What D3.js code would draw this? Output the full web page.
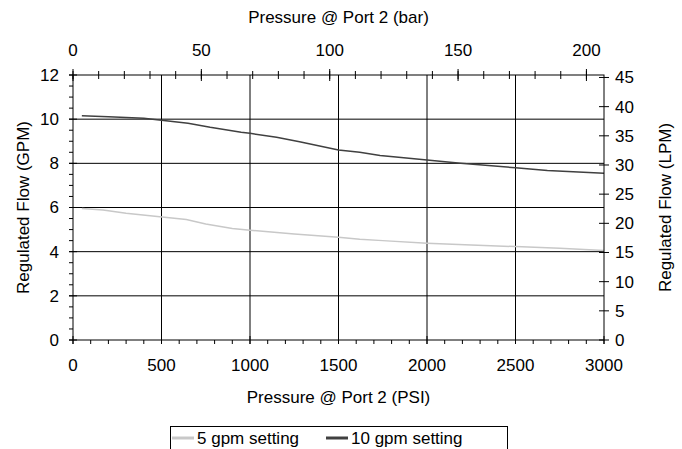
<!DOCTYPE html>
<html>
<head>
<meta charset="utf-8">
<script src="https://cdn.jsdelivr.net/npm/d3@7"></script>
<style>
  body { margin: 0; background: #fff; }
  text { font-family: "Liberation Sans", Arial, sans-serif; font-size: 17px; fill: #000; }
</style>
</head>
<body>
<div id="chart"></div>
<script>
// pressure (psi) sample points and regulated flow (GPM)
var psi5  = [50, 170, 300, 490, 640, 750, 900, 1000, 1250, 1500, 1620, 1750, 2000, 2250, 2500, 2750, 3000];
var gpm5  = [5.96, 5.89, 5.74, 5.58, 5.46, 5.25, 5.05, 4.97, 4.8, 4.65, 4.56, 4.5, 4.38, 4.3, 4.23, 4.15, 4.05];
var psi10 = [50, 200, 400, 500, 650, 775, 950, 1000, 1150, 1280, 1500, 1620, 1735, 1810, 2000, 2190, 2500, 2680, 3000];
var gpm10 = [10.16, 10.11, 10.04, 9.95, 9.81, 9.63, 9.41, 9.36, 9.18, 8.98, 8.6, 8.5, 8.36, 8.3, 8.15, 8.0, 7.8, 7.67, 7.55];

var seriesNames  = ["5 gpm setting", "10 gpm setting"];
var seriesColors = ["#c8c8c8", "#404040"];

var psiTicks = [0, 500, 1000, 1500, 2000, 2500, 3000];
var barTicks = [0, 50, 100, 150, 200];
var gpmTicks = [0, 2, 4, 6, 8, 10, 12];
var lpmTicks = [0, 5, 10, 15, 20, 25, 30, 35, 40, 45];

var PSI_PER_BAR = 14.5038, LPM_PER_GPM = 3.78541;

function drawChart() {
  var W = 682, H = 449;
  var pl = 73, pr = 604, pt = 75, pb = 340;

  var svg = d3.select("#chart").append("svg")
      .attr("width", W).attr("height", H);

  var x = d3.scaleLinear().domain([0, 3000]).range([pl, pr]);
  var xBar = d3.scaleLinear().domain([0, 3000 / PSI_PER_BAR]).range([pl, pr]);
  var y = d3.scaleLinear().domain([0, 12]).range([pb, pt]);
  var yL = d3.scaleLinear().domain([0, 12 * LPM_PER_GPM]).range([pb, pt]);

  // gridlines
  svg.append("g").selectAll("line")
      .data(gpmTicks.filter(function(d) { return d > 0 && d < 12; }))
      .enter().append("line")
      .attr("x1", pl).attr("x2", pr)
      .attr("y1", function(d) { return y(d); }).attr("y2", function(d) { return y(d); })
      .attr("stroke", "#000").attr("stroke-width", 1);

  svg.append("g").selectAll("line")
      .data(psiTicks.filter(function(d) { return d > 0 && d < 3000; }))
      .enter().append("line")
      .attr("y1", pt).attr("y2", pb)
      .attr("x1", function(d) { return x(d); }).attr("x2", function(d) { return x(d); })
      .attr("stroke", "#000").attr("stroke-width", 1);

  // the curves
  var line = d3.line()
      .x(function(d) { return x(d[0]); })
      .y(function(d) { return y(d[1]); });

  var curves = [d3.zip(psi5, gpm5), d3.zip(psi10, gpm10)];
  svg.append("g").selectAll("path")
      .data(curves)
      .enter().append("path")
      .attr("d", line)
      .attr("fill", "none")
      .attr("stroke", function(d, i) { return seriesColors[i]; })
      .attr("stroke-width", 1.5);

  // frame
  svg.append("rect")
      .attr("x", pl).attr("y", pt)
      .attr("width", pr - pl).attr("height", pb - pt)
      .attr("fill", "none").attr("stroke", "#000").attr("stroke-width", 1);

  function ticks(g, data, pos, fixed, a, b, vertical) {
    g.selectAll(null).data(data).enter().append("line")
      .attr(vertical ? "x1" : "y1", fixed + a)
      .attr(vertical ? "x2" : "y2", fixed + b)
      .attr(vertical ? "y1" : "x1", function(d) { return pos(d); })
      .attr(vertical ? "y2" : "x2", function(d) { return pos(d); })
      .attr("stroke", "#000").attr("stroke-width", 1);
  }

  var axes = svg.append("g");
  // bottom (psi)
  ticks(axes, d3.range(0, 3001, 100), x, pb, 0, 4, false);
  ticks(axes, psiTicks, x, pb, -4, 4, false);
  // top (bar)
  ticks(axes, d3.range(0, 201, 10), xBar, pt, -4, 4, false);
  ticks(axes, barTicks, xBar, pt, -6, 6, false);
  // left (gpm)
  ticks(axes, d3.range(0, 12.01, 0.5), y, pl, -4, 0, true);
  ticks(axes, gpmTicks, y, pl, -4, 4, true);
  // right (lpm)
  ticks(axes, lpmTicks, yL, pr, -5, 5, true);

  // tick labels
  svg.append("g").selectAll("text").data(psiTicks).enter().append("text")
      .attr("x", function(d) { return x(d); }).attr("y", 371)
      .attr("text-anchor", "middle").text(function(d) { return d; });
  svg.append("g").selectAll("text").data(barTicks).enter().append("text")
      .attr("x", function(d) { return xBar(d); }).attr("y", 56)
      .attr("text-anchor", "middle").text(function(d) { return d; });
  svg.append("g").selectAll("text").data(gpmTicks).enter().append("text")
      .attr("x", 59).attr("y", function(d) { return y(d); }).attr("dy", "0.35em")
      .attr("text-anchor", "end").text(function(d) { return d; });
  svg.append("g").selectAll("text").data(lpmTicks).enter().append("text")
      .attr("x", 615).attr("y", function(d) { return yL(d); }).attr("dy", "0.35em")
      .attr("text-anchor", "start").text(function(d) { return d; });

  // axis titles
  svg.append("text").attr("x", (pl + pr) / 2).attr("y", 23)
      .attr("text-anchor", "middle").text("Pressure @ Port 2 (bar)");
  svg.append("text").attr("x", (pl + pr) / 2).attr("y", 403)
      .attr("text-anchor", "middle").text("Pressure @ Port 2 (PSI)");
  svg.append("text")
      .attr("transform", "translate(29," + (pt + pb) / 2 + ") rotate(-90)")
      .attr("text-anchor", "middle").text("Regulated Flow (GPM)");
  svg.append("text")
      .attr("transform", "translate(671," + (pt + pb) / 2 + ") rotate(-90)")
      .attr("text-anchor", "middle").text("Regulated Flow (LPM)");

  // legend
  var lg = svg.append("g");
  lg.append("rect").attr("x", 170.5).attr("y", 426.5)
      .attr("width", 337).attr("height", 40)
      .attr("fill", "#fff").attr("stroke", "#000").attr("stroke-width", 1);
  var legendX = [172, 326];
  seriesNames.forEach(function(name, i) {
    lg.append("line")
        .attr("x1", legendX[i]).attr("x2", legendX[i] + 22)
        .attr("y1", 438).attr("y2", 438)
        .attr("stroke", seriesColors[i]).attr("stroke-width", 3);
    lg.append("text").attr("x", legendX[i] + 25).attr("y", 444).text(name);
  });
}

drawChart();
</script>
</body>
</html>
